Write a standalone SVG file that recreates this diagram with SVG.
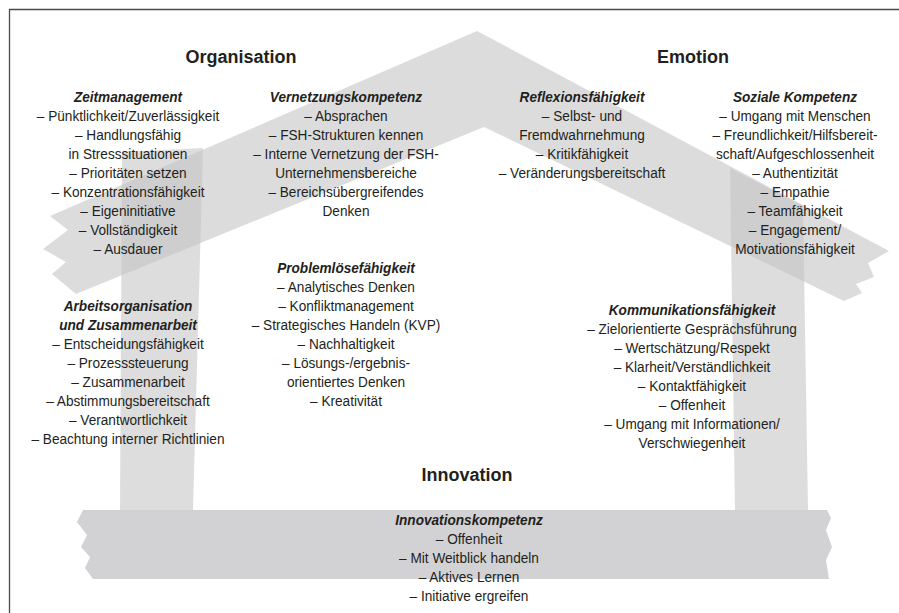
<svg xmlns="http://www.w3.org/2000/svg" width="899" height="613" viewBox="0 0 899 613">
<style>
text{font-family:"Liberation Sans",Arial,sans-serif;font-size:15.4px;fill:#231f20;text-anchor:middle}
.h{font-weight:bold;font-style:italic}
.t{font-weight:bold;font-size:18px}
.roof{fill:#dcdcdd}
.wall{fill:#c4c4c5;fill-opacity:0.58}
.base{fill:#d2d2d4}
</style>
<rect width="899" height="613" fill="#ffffff"/>
<path d="M9.5 613 V9.5 H899" fill="none" stroke="#4a4a4a" stroke-width="1.3"/>
<g id="house">
<polygon id="roof" class="roof" points="477,31 889,251 868,263 874,277 856,284 862,293 844,301 484,127 76,294 52,274 66,262 43,249 68,230 50,216"/>
<polygon id="wall-left" class="wall" points="122,152 203,148 193,510 120,510"/>
<polygon id="wall-right" class="wall" points="730,168 803,206 808,510 735,510"/>
<polygon id="base" class="base" points="83,510 827,510 831,518 826,530 832,547 826,560 829,579 93,579 85,568 90,557 81,547 87,535 77,522"/>
</g>
<g id="connectors"/>
<g id="title-organisation"><text class="t" x="241" y="63">Organisation</text></g>
<g id="title-emotion"><text class="t" x="693" y="63">Emotion</text></g>
<g id="title-innovation"><text class="t" x="467" y="481">Innovation</text></g>
<g id="zeitmanagement" transform="translate(128 0) scale(0.885 1)">
<text class="h" x="0" y="102">Zeitmanagement</text>
<text x="0" y="121">– Pünktlichkeit/Zuverlässigkeit</text>
<text x="0" y="140">– Handlungsfähig</text>
<text x="0" y="159">in Stresssituationen</text>
<text x="0" y="178">– Prioritäten setzen</text>
<text x="0" y="197">– Konzentrationsfähigkeit</text>
<text x="0" y="216">– Eigeninitiative</text>
<text x="0" y="235">– Vollständigkeit</text>
<text x="0" y="254">– Ausdauer</text>
</g>
<g id="vernetzungskompetenz" transform="translate(346 0) scale(0.885 1)">
<text class="h" x="0" y="102">Vernetzungskompetenz</text>
<text x="0" y="121">– Absprachen</text>
<text x="0" y="140">– FSH-Strukturen kennen</text>
<text x="0" y="159">– Interne Vernetzung der FSH-</text>
<text x="0" y="178">Unternehmensbereiche</text>
<text x="0" y="197">– Bereichsübergreifendes</text>
<text x="0" y="216">Denken</text>
</g>
<g id="reflexionsfaehigkeit" transform="translate(582 0) scale(0.885 1)">
<text class="h" x="0" y="102">Reflexionsfähigkeit</text>
<text x="0" y="121">– Selbst- und</text>
<text x="0" y="140">Fremdwahrnehmung</text>
<text x="0" y="159">– Kritikfähigkeit</text>
<text x="0" y="178">– Veränderungsbereitschaft</text>
</g>
<g id="soziale-kompetenz" transform="translate(795 0) scale(0.885 1)">
<text class="h" x="0" y="102">Soziale Kompetenz</text>
<text x="0" y="121">– Umgang mit Menschen</text>
<text x="0" y="140">– Freundlichkeit/Hilfsbereit-</text>
<text x="0" y="159">schaft/Aufgeschlossenheit</text>
<text x="0" y="178">– Authentizität</text>
<text x="0" y="197">– Empathie</text>
<text x="0" y="216">– Teamfähigkeit</text>
<text x="0" y="235">– Engagement/</text>
<text x="0" y="254">Motivationsfähigkeit</text>
</g>
<g id="problemloesefaehigkeit" transform="translate(346 0) scale(0.885 1)">
<text class="h" x="0" y="273">Problemlösefähigkeit</text>
<text x="0" y="292">– Analytisches Denken</text>
<text x="0" y="311">– Konfliktmanagement</text>
<text x="0" y="330">– Strategisches Handeln (KVP)</text>
<text x="0" y="349">– Nachhaltigkeit</text>
<text x="0" y="368">– Lösungs-/ergebnis-</text>
<text x="0" y="387">orientiertes Denken</text>
<text x="0" y="406">– Kreativität</text>
</g>
<g id="arbeitsorganisation" transform="translate(128 0) scale(0.885 1)">
<text class="h" x="0" y="311">Arbeitsorganisation</text>
<text class="h" x="0" y="330">und Zusammenarbeit</text>
<text x="0" y="349">– Entscheidungsfähigkeit</text>
<text x="0" y="368">– Prozesssteuerung</text>
<text x="0" y="387">– Zusammenarbeit</text>
<text x="0" y="406">– Abstimmungsbereitschaft</text>
<text x="0" y="425">– Verantwortlichkeit</text>
<text x="0" y="444">– Beachtung interner Richtlinien</text>
</g>
<g id="kommunikationsfaehigkeit" transform="translate(692 0) scale(0.885 1)">
<text class="h" x="0" y="315">Kommunikationsfähigkeit</text>
<text x="0" y="334">– Zielorientierte Gesprächsführung</text>
<text x="0" y="353">– Wertschätzung/Respekt</text>
<text x="0" y="372">– Klarheit/Verständlichkeit</text>
<text x="0" y="391">– Kontaktfähigkeit</text>
<text x="0" y="410">– Offenheit</text>
<text x="0" y="429">– Umgang mit Informationen/</text>
<text x="0" y="448">Verschwiegenheit</text>
</g>
<g id="innovationskompetenz" transform="translate(469 0) scale(0.885 1)">
<text class="h" x="0" y="525">Innovationskompetenz</text>
<text x="0" y="544">– Offenheit</text>
<text x="0" y="563">– Mit Weitblick handeln</text>
<text x="0" y="582">– Aktives Lernen</text>
<text x="0" y="601">– Initiative ergreifen</text>
</g>
</svg>
